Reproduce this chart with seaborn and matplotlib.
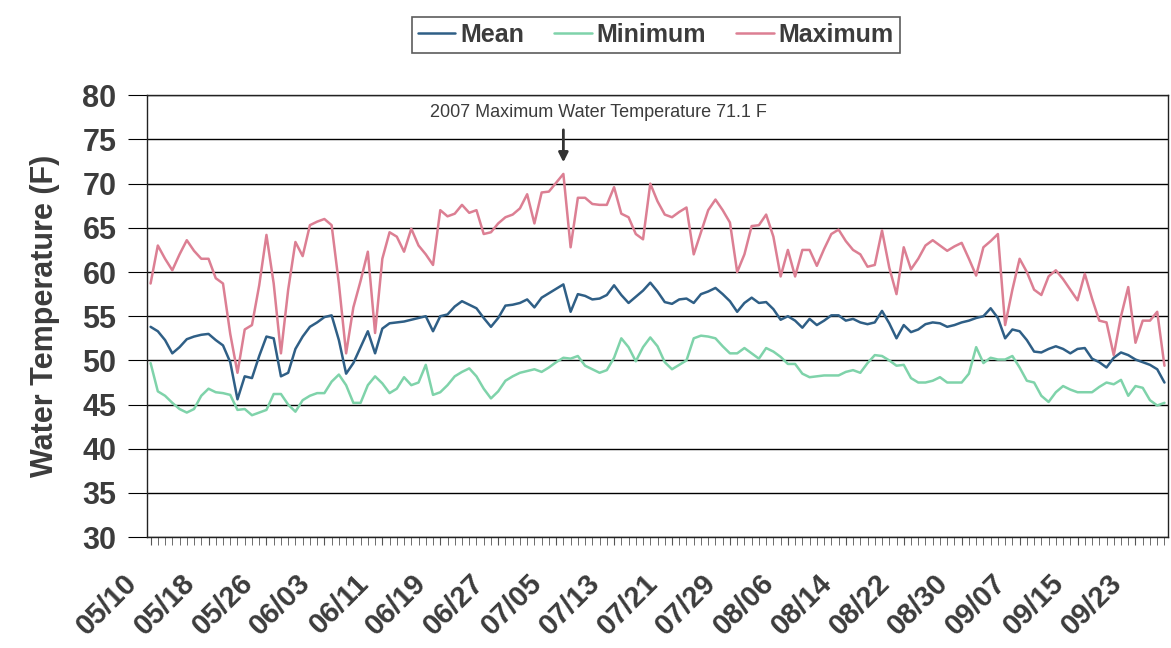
import pandas as pd
import matplotlib
matplotlib.use('Agg')
import matplotlib.pyplot as plt
import matplotlib.dates as mdates
import matplotlib.transforms as mtransforms
import seaborn as sns

# === DATA (daily water temperature, F) ===
START = '2007-05-10'
SERIES = ['Mean', 'Minimum', 'Maximum']

MEAN = [53.8, 53.3, 52.3, 50.8, 51.5, 52.4, 52.7, 52.9, 53.0, 52.3,
        51.7, 49.8, 45.6, 48.2, 48.0, 50.5, 52.7, 52.5, 48.2, 48.6,
        51.3, 52.7, 53.8, 54.3, 54.9, 55.1, 52.3, 48.5, 49.7, 51.5,
        53.3, 50.8, 53.6, 54.2, 54.3, 54.4, 54.6, 54.8, 55.0, 53.3,
        55.0, 55.2, 56.1, 56.7, 56.3, 55.9, 54.8, 53.8, 54.8, 56.2,
        56.3, 56.5, 56.9, 56.0, 57.1, 57.6, 58.1, 58.6, 55.5, 57.5,
        57.3, 56.9, 57.0, 57.4, 58.5, 57.4, 56.5, 57.2, 57.9, 58.8,
        57.8, 56.6, 56.4, 56.9, 57.0, 56.5, 57.5, 57.8, 58.2, 57.5,
        56.7, 55.5, 56.5, 57.1, 56.5, 56.6, 55.8, 54.6, 55.0, 54.5,
        53.7, 54.7, 54.0, 54.5, 55.1, 55.1, 54.5, 54.7, 54.3, 54.1,
        54.3, 55.6, 54.2, 52.5, 54.0, 53.2, 53.5, 54.1, 54.3, 54.2,
        53.8, 54.0, 54.3, 54.5, 54.8, 55.0, 55.9, 54.8, 52.5, 53.5,
        53.3, 52.3, 51.0, 50.9, 51.3, 51.6, 51.3, 50.8, 51.3, 51.4,
        50.2, 49.8, 49.2, 50.3, 50.9, 50.6, 50.1, 49.8, 49.5, 49.0,
        47.5]

MINIMUM = [49.7, 46.5, 46.0, 45.2, 44.5, 44.1, 44.5, 46.0, 46.8, 46.4,
           46.3, 46.1, 44.4, 44.5, 43.8, 44.1, 44.4, 46.2, 46.2, 45.0,
           44.2, 45.5, 46.0, 46.3, 46.3, 47.6, 48.4, 47.2, 45.2, 45.2,
           47.2, 48.2, 47.4, 46.3, 46.8, 48.1, 47.2, 47.5, 49.5, 46.1,
           46.4, 47.2, 48.2, 48.7, 49.1, 48.2, 46.8, 45.7, 46.5, 47.7,
           48.2, 48.6, 48.8, 49.0, 48.7, 49.2, 49.8, 50.3, 50.2, 50.5,
           49.4, 49.0, 48.6, 48.9, 50.3, 52.5, 51.5, 49.9, 51.5, 52.6,
           51.6, 49.8, 49.0, 49.5, 50.0, 52.5, 52.8, 52.7, 52.5, 51.6,
           50.8, 50.8, 51.4, 50.8, 50.2, 51.4, 51.0, 50.4, 49.6, 49.6,
           48.5, 48.1, 48.2, 48.3, 48.3, 48.3, 48.7, 48.9, 48.6, 49.7,
           50.6, 50.5, 50.0, 49.4, 49.5, 48.0, 47.5, 47.5, 47.7, 48.1,
           47.5, 47.5, 47.5, 48.5, 51.5, 49.7, 50.3, 50.1, 50.1, 50.5,
           49.2, 47.7, 47.5, 46.0, 45.3, 46.4, 47.1, 46.7, 46.4, 46.4,
           46.4, 47.0, 47.5, 47.3, 47.8, 46.0, 47.1, 46.9, 45.5, 44.9,
           45.2]

MAXIMUM = [58.7, 63.0, 61.5, 60.2, 62.0, 63.6, 62.4, 61.5, 61.5, 59.3,
           58.7, 53.0, 48.6, 53.5, 54.0, 58.5, 64.2, 58.7, 50.8, 58.0,
           63.4, 61.8, 65.3, 65.7, 66.0, 65.3, 58.7, 50.8, 56.0, 59.0,
           62.3, 53.1, 61.5, 64.5, 64.0, 62.3, 64.9, 63.0, 62.0, 60.8,
           67.0, 66.3, 66.6, 67.6, 66.7, 67.0, 64.3, 64.5, 65.5, 66.2,
           66.5, 67.2, 68.8, 65.5, 69.0, 69.1, 70.1, 71.1, 62.8, 68.4,
           68.4, 67.7, 67.6, 67.6, 69.6, 66.6, 66.2, 64.3, 63.7, 70.0,
           68.0, 66.5, 66.2, 66.8, 67.3, 62.0, 64.5, 67.0, 68.2, 67.0,
           65.6, 60.0, 62.0, 65.2, 65.3, 66.5, 64.0, 59.5, 62.5, 59.5,
           62.5, 62.5, 60.7, 62.6, 64.3, 64.8, 63.5, 62.5, 62.0, 60.6,
           60.8, 64.7, 60.5, 57.5, 62.8, 60.3, 61.5, 63.0, 63.6, 63.0,
           62.4, 62.9, 63.3, 61.5, 59.6, 62.8, 63.5, 64.3, 54.0, 58.0,
           61.5, 60.0, 58.0, 57.4, 59.5, 60.2, 59.2, 58.0, 56.8, 59.8,
           57.0, 54.5, 54.3, 50.6, 55.0, 58.3, 52.0, 54.5, 54.5, 55.5,
           49.4]

PEAK_LABEL = '2007 Maximum Water Temperature 71.1 F'
COLORS = {'Mean': '#2f5f86', 'Minimum': '#7fd3aa', 'Maximum': '#dc7f93'}
TEXT = '#3c3c3c'

dates = pd.date_range(START, periods=len(MEAN), freq='D')
df = pd.DataFrame({'Date': dates, 'Mean': MEAN, 'Minimum': MINIMUM, 'Maximum': MAXIMUM})
long_df = df.melt(id_vars='Date', value_vars=SERIES, var_name='Series', value_name='Temp')

sns.set_style('white')
plt.rcParams['font.family'] = ['Liberation Sans', 'DejaVu Sans']

fig = plt.figure(figsize=(11.71, 6.48), dpi=100)
ax = fig.add_axes([0.1255, 0.171, 0.872, 0.682])

sns.lineplot(data=long_df, x='Date', y='Temp', hue='Series', hue_order=SERIES,
             palette=COLORS, linewidth=1.8, ax=ax)

# axes
ax.set_ylim(30, 80)
ax.set_yticks(range(30, 81, 5))
ax.set_xlim(dates[0] - pd.Timedelta(hours=12), dates[-1] + pd.Timedelta(hours=12))
ax.grid(axis='y', color='black', linewidth=1.0)
ax.grid(axis='x', visible=False)
for s in ax.spines.values():
    s.set_color('#222222')
    s.set_linewidth(1.0)

ax.set_xticks(dates[::8])
ax.xaxis.set_major_formatter(mdates.DateFormatter('%m/%d'))
ax.set_xticks(dates, minor=True)
ax.tick_params(axis='x', which='both', direction='out', length=6, color='#555555',
               bottom=True, pad=24)
ax.tick_params(axis='y', direction='out', length=14, color='black', left=True, pad=8)
for lab in ax.get_xticklabels():
    lab.set_rotation(45)
    lab.set_ha('right')
    lab.set_va('center')
    lab.set_rotation_mode('anchor')
    lab.set_fontsize(21)
    lab.set_fontweight('bold')
    lab.set_color(TEXT)
    lab.set_transform(lab.get_transform() + mtransforms.ScaledTranslation(-13 / 72, 0, fig.dpi_scale_trans))
for lab in ax.get_yticklabels():
    lab.set_fontsize(22)
    lab.set_fontweight('bold')
    lab.set_color(TEXT)

ax.set_xlabel('')
ax.set_ylabel('Water Temperature (F)', fontsize=22, fontweight='bold', color=TEXT, labelpad=16)

# annotation of the season maximum
peak_day = dates[MAXIMUM.index(max(MAXIMUM))]
ax.annotate('', xy=(peak_day, 72.1), xytext=(peak_day, 76.4),
            arrowprops=dict(arrowstyle='-|>', color='#333333', lw=2, mutation_scale=14))
ax.text(peak_day + pd.Timedelta(days=4.8), 78.1, PEAK_LABEL, fontsize=13,
        color=TEXT, ha='center', va='center')

# legend
handles, labels = ax.get_legend_handles_labels()
ax.legend(handles, labels, loc='center', bbox_to_anchor=(0.56, 0.946),
          bbox_transform=fig.transFigure, ncol=3, frameon=True, fancybox=False,
          edgecolor='#333333', handlelength=1.5, handletextpad=0.2, columnspacing=1.2,
          borderpad=0.25, prop={'weight': 'bold', 'size': 18}, labelcolor=TEXT)
ax.get_legend().get_frame().set_linewidth(1.2)

plt.savefig('out.png', dpi=100)
